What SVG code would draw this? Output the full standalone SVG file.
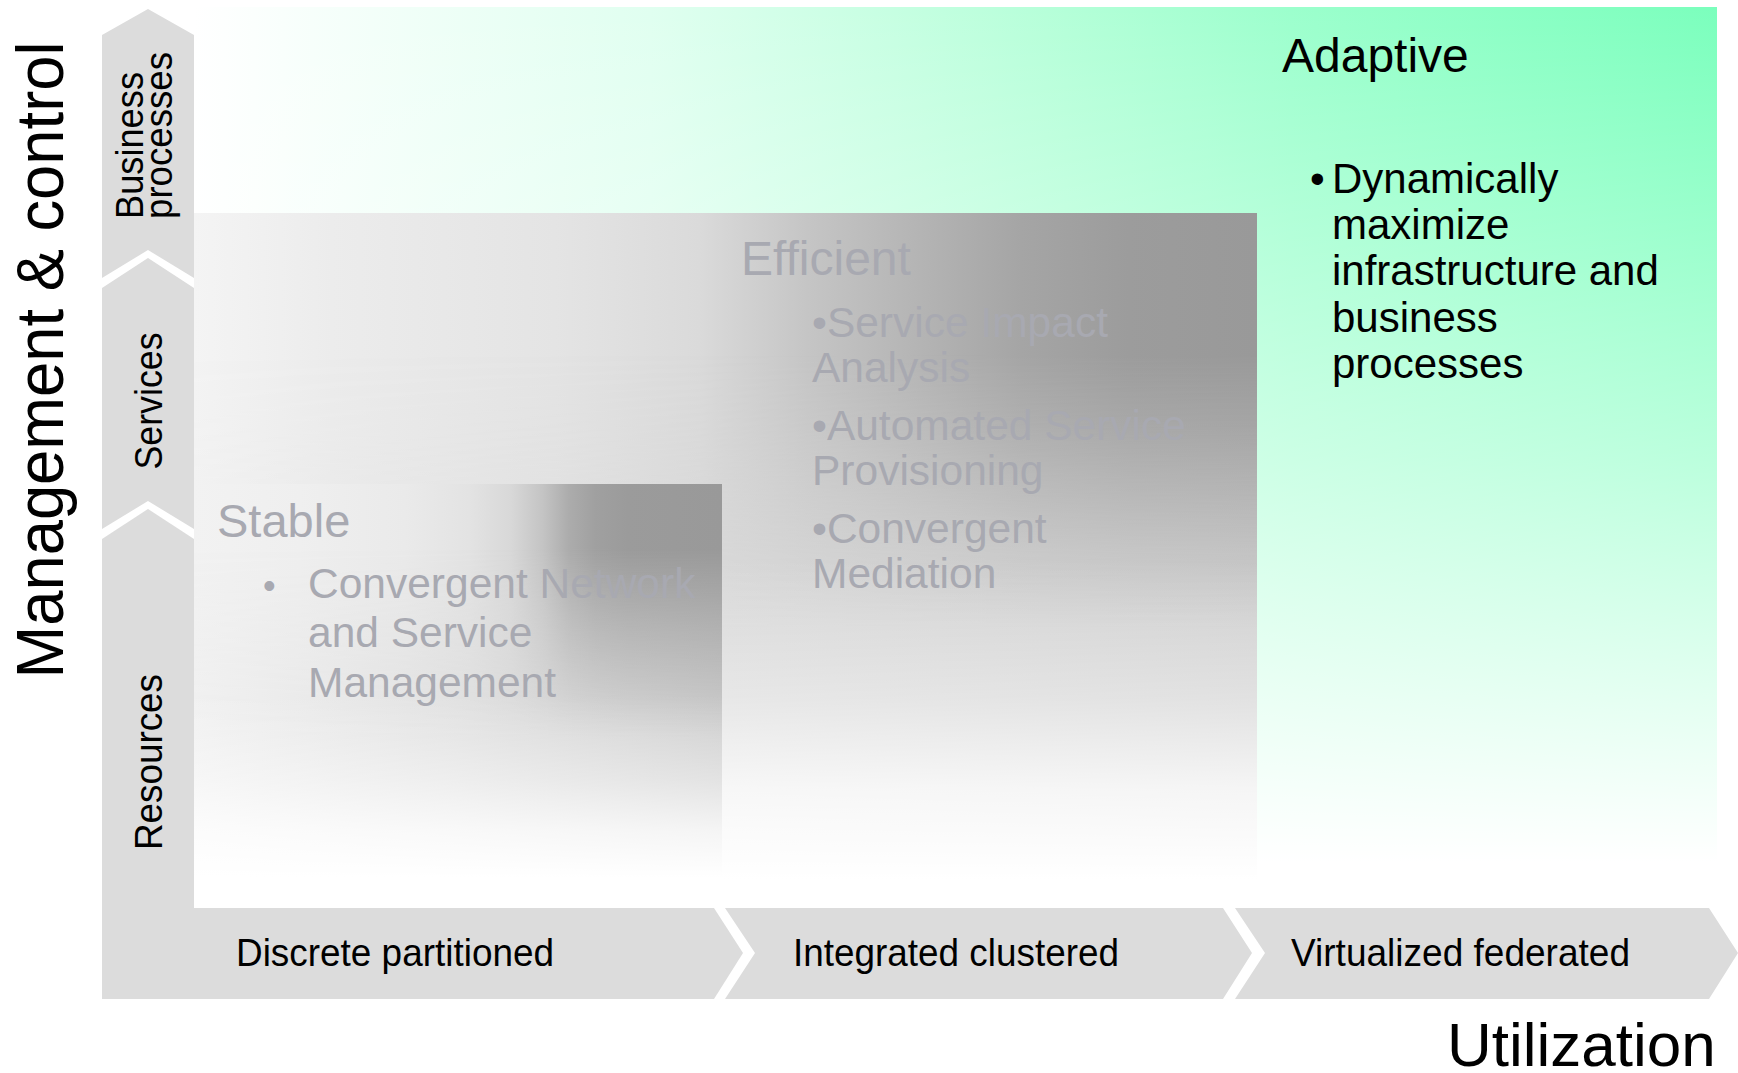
<svg xmlns="http://www.w3.org/2000/svg" width="1738" height="1073" viewBox="0 0 1738 1073">
<defs>
<linearGradient id="gGreenH" x1="0" y1="0" x2="1" y2="0">
<stop offset="0" stop-color="#ffffff"/>
<stop offset="0.3" stop-color="#e0fff0"/>
<stop offset="0.56" stop-color="#b6ffd9"/>
<stop offset="0.72" stop-color="#9cffcd"/>
<stop offset="1" stop-color="#7bffbd"/>
</linearGradient>
<linearGradient id="gGreenV" x1="0" y1="0" x2="0" y2="1">
<stop offset="0" stop-color="#ffffff" stop-opacity="0"/>
<stop offset="0.5" stop-color="#ffffff" stop-opacity="0.48"/>
<stop offset="0.95" stop-color="#ffffff" stop-opacity="1"/>
</linearGradient>

<linearGradient id="gEffH" x1="0" y1="0" x2="1" y2="0">
<stop offset="0" stop-color="#f4f4f4"/>
<stop offset="0.13" stop-color="#ececec"/>
<stop offset="0.34" stop-color="#e4e4e4"/>
<stop offset="0.476" stop-color="#dadada"/>
<stop offset="0.577" stop-color="#c5c5c5"/>
<stop offset="0.677" stop-color="#b5b5b5"/>
<stop offset="0.778" stop-color="#a5a5a5"/>
<stop offset="0.879" stop-color="#9c9c9c"/>
<stop offset="1" stop-color="#999999"/>
</linearGradient>
<linearGradient id="gEffGrayH" x1="0" y1="0" x2="1" y2="0">
<stop offset="0" stop-color="#f0f0f0"/>
<stop offset="0.5" stop-color="#d8d8d8"/>
<stop offset="0.9" stop-color="#d0d0d0"/>
<stop offset="1" stop-color="#cecece"/>
</linearGradient>
<linearGradient id="gEffMaskV" x1="0" y1="0" x2="0" y2="1">
<stop offset="0" stop-color="#ffffff" stop-opacity="0"/>
<stop offset="0.2" stop-color="#ffffff" stop-opacity="0"/>
<stop offset="0.31" stop-color="#ffffff" stop-opacity="0.25"/>
<stop offset="0.49" stop-color="#ffffff" stop-opacity="0.8"/>
<stop offset="0.6" stop-color="#ffffff" stop-opacity="1"/>
</linearGradient>
<linearGradient id="gEffV" x1="0" y1="0" x2="0" y2="1">
<stop offset="0" stop-color="#ffffff" stop-opacity="0"/>
<stop offset="0.5" stop-color="#ffffff" stop-opacity="0"/>
<stop offset="0.7" stop-color="#ffffff" stop-opacity="0.4"/>
<stop offset="0.83" stop-color="#ffffff" stop-opacity="0.8"/>
<stop offset="0.96" stop-color="#ffffff" stop-opacity="1"/>
</linearGradient>
<mask id="mEff" maskUnits="userSpaceOnUse" x="194" y="213" width="1063" height="694">
<rect x="194" y="213" width="1063" height="694" fill="url(#gEffMaskV)"/>
</mask>

<linearGradient id="gStbH" x1="0" y1="0" x2="1" y2="0">
<stop offset="0" stop-color="#f2f2f2"/>
<stop offset="0.2" stop-color="#efefef"/>
<stop offset="0.4" stop-color="#eaeaea"/>
<stop offset="0.52" stop-color="#e3e3e3"/>
<stop offset="0.6" stop-color="#d8d8d8"/>
<stop offset="0.66" stop-color="#c4c4c4"/>
<stop offset="0.71" stop-color="#acacac"/>
<stop offset="0.76" stop-color="#a0a0a0"/>
<stop offset="0.82" stop-color="#9b9b9b"/>
<stop offset="1" stop-color="#999999"/>
</linearGradient>
<linearGradient id="gStbGrayH" x1="0" y1="0" x2="1" y2="0">
<stop offset="0" stop-color="#f0f0f0"/>
<stop offset="0.5" stop-color="#e0e0e0"/>
<stop offset="1" stop-color="#cccccc"/>
</linearGradient>
<linearGradient id="gStbMaskV" x1="0" y1="0" x2="0" y2="1">
<stop offset="0" stop-color="#ffffff" stop-opacity="0"/>
<stop offset="0.15" stop-color="#ffffff" stop-opacity="0"/>
<stop offset="0.35" stop-color="#ffffff" stop-opacity="0.5"/>
<stop offset="0.5" stop-color="#ffffff" stop-opacity="0.85"/>
<stop offset="0.6" stop-color="#ffffff" stop-opacity="1"/>
</linearGradient>
<linearGradient id="gStbV" x1="0" y1="0" x2="0" y2="1">
<stop offset="0" stop-color="#ffffff" stop-opacity="0"/>
<stop offset="0.5" stop-color="#ffffff" stop-opacity="0"/>
<stop offset="0.7" stop-color="#ffffff" stop-opacity="0.45"/>
<stop offset="0.82" stop-color="#ffffff" stop-opacity="0.8"/>
<stop offset="0.93" stop-color="#ffffff" stop-opacity="1"/>
</linearGradient>
<mask id="mStb" maskUnits="userSpaceOnUse" x="194" y="484" width="528" height="423">
<rect x="194" y="484" width="528" height="423" fill="url(#gStbMaskV)"/>
</mask>
</defs>
<style>
.seg{fill:#dcdcdc;}
.lbl{font-family:"Liberation Sans",Arial,sans-serif;fill:#000000;}
.ghost{font-family:"Liberation Sans",Arial,sans-serif;fill:#a8a9b1;}
.dark{font-family:"Liberation Sans",Arial,sans-serif;fill:#000000;}
</style>
<rect x="0" y="0" width="1738" height="1073" fill="#ffffff"/>

<g id="panel-adaptive">
<rect x="194" y="7" width="1523" height="900" fill="url(#gGreenH)"/>
<rect x="194" y="7" width="1523" height="900" fill="url(#gGreenV)"/>
<text class="dark" x="1282" y="72" font-size="48">Adaptive</text>
<text class="dark" x="1310" y="193" font-size="42">•</text>
<text class="dark" font-size="42">
<tspan x="1332" y="193">Dynamically</tspan>
<tspan x="1332" y="239">maximize</tspan>
<tspan x="1332" y="285">infrastructure and</tspan>
<tspan x="1332" y="332">business</tspan>
<tspan x="1332" y="378">processes</tspan>
</text>
</g>

<g id="panel-efficient">
<rect x="194" y="213" width="1063" height="694" fill="url(#gEffH)"/>
<rect x="194" y="213" width="1063" height="694" fill="url(#gEffGrayH)" mask="url(#mEff)"/>
<rect x="194" y="213" width="1063" height="694" fill="url(#gEffV)"/>
<text class="ghost" x="741" y="275" font-size="48">Efficient</text>
<text class="ghost" font-size="42.5">
<tspan x="812" y="337">•Service Impact</tspan>
<tspan x="812" y="382">Analysis</tspan>
<tspan x="812" y="440">•Automated Service</tspan>
<tspan x="812" y="485">Provisioning</tspan>
<tspan x="812" y="543">•Convergent</tspan>
<tspan x="812" y="588">Mediation</tspan>
</text>
</g>

<g id="panel-stable">
<rect x="194" y="484" width="528" height="423" fill="url(#gStbH)"/>
<rect x="194" y="484" width="528" height="423" fill="url(#gStbGrayH)" mask="url(#mStb)"/>
<rect x="194" y="484" width="528" height="423" fill="url(#gStbV)"/>
<text class="ghost" x="217" y="537" font-size="47">Stable</text>
<text class="ghost" x="263" y="598" font-size="36">•</text>
<text class="ghost" font-size="42.5">
<tspan x="308" y="598">Convergent Network</tspan>
<tspan x="308" y="647">and Service</tspan>
<tspan x="308" y="697">Management</tspan>
</text>
</g>

<g id="axis-business">
<polygon class="seg" points="102,35 148,9 194,35 194,278 148,250 102,278"/>
<text class="lbl" transform="translate(143,219) rotate(-90)" font-size="39" textLength="147" lengthAdjust="spacingAndGlyphs">Business</text>
<text class="lbl" transform="translate(172,219) rotate(-90)" font-size="39" textLength="167" lengthAdjust="spacingAndGlyphs">processes</text>
</g>
<g id="axis-services">
<polygon class="seg" points="102,288 148,258 194,288 194,529 148,501 102,529"/>
<text class="lbl" transform="translate(162,401) rotate(-90)" font-size="39" text-anchor="middle" textLength="137" lengthAdjust="spacingAndGlyphs">Services</text>
</g>
<g id="axis-resources">
<polygon class="seg" points="102,539 148,509 194,539 194,999 102,999"/>
<text class="lbl" transform="translate(162,762) rotate(-90)" font-size="39" text-anchor="middle" textLength="176" lengthAdjust="spacingAndGlyphs">Resources</text>
</g>

<g id="axis-discrete">
<polygon class="seg" points="102,908 714,908 743,953 714,999 102,999"/>
<text class="lbl" x="236" y="966" font-size="39" textLength="318" lengthAdjust="spacingAndGlyphs">Discrete partitioned</text>
</g>
<g id="axis-integrated">
<polygon class="seg" points="725,908 1223,908 1252,953 1223,999 725,999 755,953"/>
<text class="lbl" x="793" y="966" font-size="39" textLength="326" lengthAdjust="spacingAndGlyphs">Integrated clustered</text>
</g>
<g id="axis-virtualized">
<polygon class="seg" points="1235,908 1709,908 1738,953 1709,999 1235,999 1265,953"/>
<text class="lbl" x="1291" y="966" font-size="39" textLength="339" lengthAdjust="spacingAndGlyphs">Virtualized federated</text>
</g>

<g id="title-y">
<text class="lbl" transform="translate(63,360) rotate(-90)" font-size="66" text-anchor="middle" textLength="637" lengthAdjust="spacingAndGlyphs">Management &amp; control</text>
</g>
<g id="title-x">
<text class="lbl" x="1447" y="1066" font-size="62">Utilization</text>
</g>
<g id="connectors"/>
</svg>
